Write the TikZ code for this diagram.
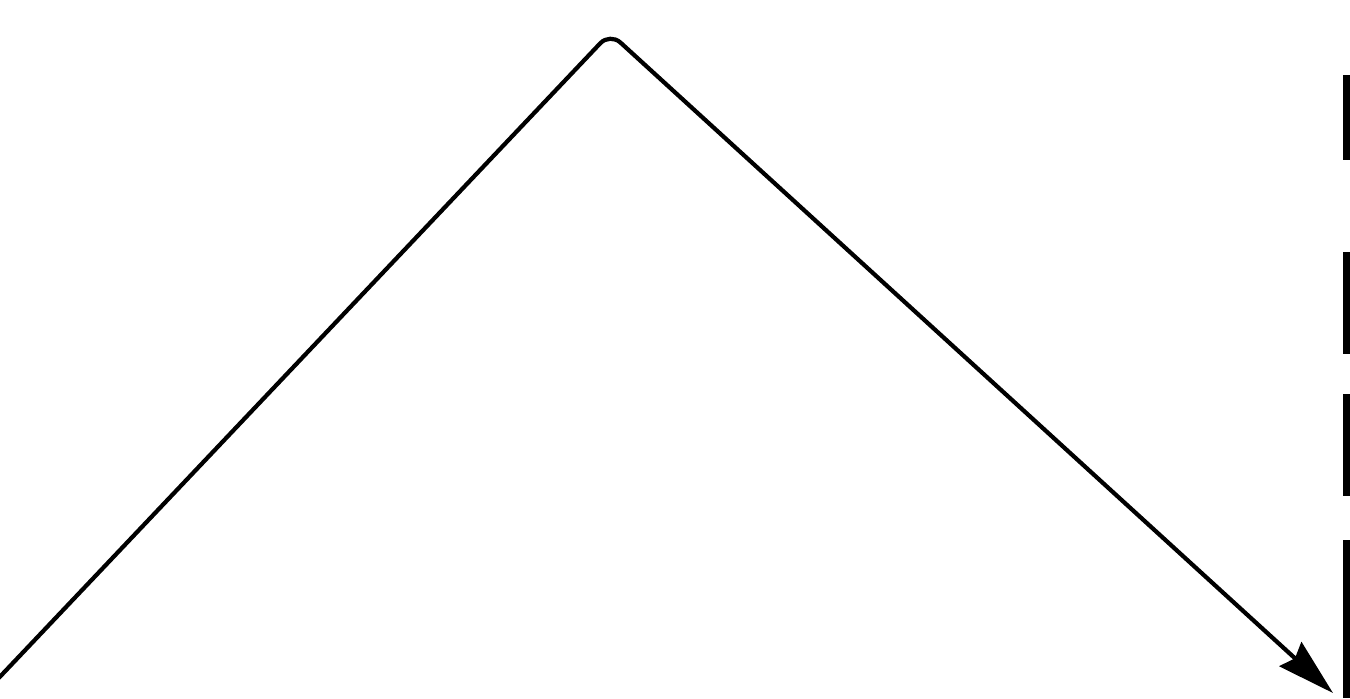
\documentclass[tikz,border=0pt]{standalone}
\usetikzlibrary{arrows.meta}
\begin{document}
\begin{tikzpicture}[x=0.02cm,y=-0.02cm,
  pathline/.style={line width=2.4pt,line join=round,rounded corners=8pt,-{Stealth[length=1.15cm,width=0.65cm,inset=0.12cm]}},
  edgebar/.style={fill=black,draw=none}]
\useasboundingbox[fill=white] (0,0) rectangle (1350,698);
\coordinate (start) at (-6,683);
\coordinate (apex) at (610,33);
\coordinate (tip) at (1333,693);
\draw[pathline] (start) -- (apex) -- (tip);
\fill[edgebar] (1343,75) rectangle (1350,160);
\fill[edgebar] (1343,252) rectangle (1350,354);
\fill[edgebar] (1343,394) rectangle (1350,496);
\fill[edgebar] (1343,540) rectangle (1350,698);
\end{tikzpicture}
\end{document}
